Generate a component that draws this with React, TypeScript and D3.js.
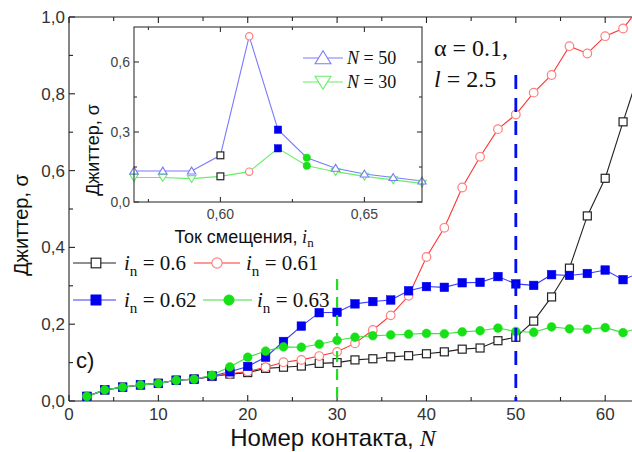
import React from "react";
import * as d3 from "d3";

// Contact numbers along the junction chain
const contacts = [2, 4, 6, 8, 10, 12, 14, 16, 18, 20, 22, 24, 26, 28, 30, 32, 34, 36, 38, 40, 42, 44, 46, 48, 50, 52, 54, 56, 58, 60, 62, 64];

// Jitter σ for each bias current i_n
const jitter060 = [0.012, 0.029, 0.036, 0.042, 0.046, 0.054, 0.057, 0.064, 0.070, 0.074, 0.085, 0.088, 0.091, 0.098, 0.100, 0.107, 0.110, 0.115, 0.118, 0.123, 0.128, 0.135, 0.138, 0.157, 0.166, 0.208, 0.271, 0.346, 0.482, 0.580, 0.727, 0.87];
const jitter061 = [0.012, 0.029, 0.036, 0.042, 0.046, 0.054, 0.057, 0.064, 0.071, 0.077, 0.088, 0.101, 0.107, 0.117, 0.128, 0.150, 0.185, 0.223, 0.274, 0.375, 0.451, 0.556, 0.636, 0.708, 0.746, 0.803, 0.849, 0.924, 0.905, 0.950, 0.970, 1.03];
const jitter062 = [0.012, 0.029, 0.036, 0.042, 0.046, 0.054, 0.057, 0.065, 0.076, 0.090, 0.114, 0.155, 0.195, 0.230, 0.231, 0.253, 0.259, 0.263, 0.287, 0.298, 0.296, 0.308, 0.309, 0.324, 0.305, 0.301, 0.329, 0.327, 0.332, 0.341, 0.316, 0.335];
const jitter063 = [0.012, 0.029, 0.036, 0.042, 0.046, 0.054, 0.057, 0.067, 0.089, 0.114, 0.130, 0.141, 0.140, 0.148, 0.158, 0.166, 0.170, 0.172, 0.174, 0.176, 0.175, 0.180, 0.183, 0.190, 0.181, 0.179, 0.193, 0.188, 0.187, 0.191, 0.178, 0.192];

// Inset: jitter versus bias current at two contacts
const biasCurrents = [0.57, 0.58, 0.59, 0.60, 0.61, 0.62, 0.63, 0.64, 0.65, 0.66, 0.67];
const jitterN50 = [0.133, 0.133, 0.133, 0.20, 0.71, 0.31, 0.19, 0.145, 0.12, 0.105, 0.09];
const jitterN30 = [0.105, 0.105, 0.10, 0.11, 0.13, 0.23, 0.155, 0.13, 0.11, 0.095, 0.08];

const mainXTicks = [0, 10, 20, 30, 40, 50, 60];
const mainYTicks = [0, 0.2, 0.4, 0.6, 0.8, 1.0];
const insetXTicks = [0.6, 0.65];
const insetYTicks = [0, 0.3, 0.6];

const SANS = "'Liberation Sans', Arial, sans-serif";
const SERIF = "'Liberation Serif', 'Times New Roman', serif";

const C_BLACK = "#222";
const C_RED_LINE = "#ff3333";
const C_RED_MARK = "#ff8080";
const C_BLUE = "#0000ee";
const C_BLUE_LINE = "#3a3aff";
const C_GREEN = "#16e016";
const C_GREEN_LINE = "#44dd44";
const C_INSET_BLUE = "#7a7aff";
const C_INSET_GREEN = "#66ee66";

type MarkerKind = "sqOpen" | "circOpen" | "sqFill" | "circFill" | "triUp" | "triDown";

function Marker({ kind, x, y, s = 1 }: { kind: MarkerKind; x: number; y: number; s?: number }) {
  switch (kind) {
    case "sqOpen":
      return <rect x={x - 4 * s} y={y - 4 * s} width={8 * s} height={8 * s} fill="#fff" stroke={C_BLACK} strokeWidth={1.2} />;
    case "circOpen":
      return <circle cx={x} cy={y} r={4.3 * s} fill="#fff" stroke={C_RED_MARK} strokeWidth={1.2} />;
    case "sqFill":
      return <rect x={x - 4.3 * s} y={y - 4.3 * s} width={8.6 * s} height={8.6 * s} fill={C_BLUE} stroke={C_BLUE} strokeWidth={0.5} />;
    case "circFill":
      return <circle cx={x} cy={y} r={4.4 * s} fill={C_GREEN} stroke={C_GREEN} strokeWidth={0.5} />;
    case "triUp": {
      const h = 4.5 * s;
      return <path d={`M${x},${y - h} L${x + h * 1.1},${y + h * 0.8} L${x - h * 1.1},${y + h * 0.8} Z`} fill="#fff" stroke={C_INSET_BLUE} strokeWidth={1.1} />;
    }
    case "triDown": {
      const h = 4.5 * s;
      return <path d={`M${x},${y + h} L${x + h * 1.1},${y - h * 0.8} L${x - h * 1.1},${y - h * 0.8} Z`} fill="#fff" stroke={C_INSET_GREEN} strokeWidth={1.1} />;
    }
  }
  return null;
}

function SubN({ x, y, value, size = 21 }: { x: number; y: number; value: string; size?: number }) {
  return (
    <text x={x} y={y} fontFamily={SERIF} fontSize={size} fill="#111">
      <tspan fontStyle="italic">i</tspan>
      <tspan fontSize={size * 0.72} dy={size * 0.28}>n</tspan>
      <tspan dy={-size * 0.28}>{` = ${value}`}</tspan>
    </text>
  );
}

export default function App() {
  // Main plot frame
  const left = 69, right = 632, top = 17, bottom = 401;
  const x = d3.scaleLinear().domain([0, 63]).range([left, right]);
  const y = d3.scaleLinear().domain([0, 1]).range([bottom, top]);

  const mainSeries = [
    { vals: jitter060, line: C_BLACK, kind: "sqOpen" as MarkerKind },
    { vals: jitter061, line: C_RED_LINE, kind: "circOpen" as MarkerKind },
    { vals: jitter062, line: C_BLUE_LINE, kind: "sqFill" as MarkerKind },
    { vals: jitter063, line: C_GREEN_LINE, kind: "circFill" as MarkerKind },
  ];

  const line = d3
    .line<number>()
    .x((_, i) => x(contacts[i]))
    .y((d) => y(d));

  // Inset frame
  const iL = 134, iR = 422, iT = 27, iB = 202;
  const ix = d3.scaleLinear().domain([0.57, 0.67]).range([iL, iR]);
  const iy = d3.scaleLinear().domain([0, 0.75]).range([iB, iT]);
  const iline = d3
    .line<number>()
    .x((_, i) => ix(biasCurrents[i]))
    .y((d) => iy(d));

  // Points at the four bias currents shown in the main plot keep their own markers
  const insetKind = (b: number, fallback: MarkerKind): MarkerKind => {
    const k = Math.round(b * 100);
    if (k === 60) return "sqOpen";
    if (k === 61) return "circOpen";
    if (k === 62) return "sqFill";
    if (k === 63) return "circFill";
    return fallback;
  };

  const xMinor = d3.range(0, 64, 5);
  const yMinor = d3.range(0, 1.001, 0.1);
  const ixMinor = [0.575, 0.6, 0.625, 0.65];
  const iyMinor = [0, 0.15, 0.3, 0.45, 0.6];

  return (
    <svg width={632} height={452} style={{ position: "absolute", left: 0, top: 0, background: "#fff" }}>
      <defs>
        <clipPath id="plotClip">
          <rect x={left} y={top} width={right - left} height={bottom - top} />
        </clipPath>
        <clipPath id="insetClip">
          <rect x={iL} y={iT} width={iR - iL} height={iB - iT} />
        </clipPath>
      </defs>

      {/* main axes */}
      <g stroke="#222" strokeWidth={1.1}>
        <line x1={left} y1={bottom} x2={right} y2={bottom} />
        <line x1={left} y1={top} x2={right} y2={top} />
        <line x1={left} y1={top} x2={left} y2={bottom} />
        {xMinor.map((t) => {
          const major = t % 10 === 0;
          const L = major ? 6 : 4;
          return (
            <g key={"xt" + t}>
              <line x1={x(t)} y1={bottom} x2={x(t)} y2={bottom - L} />
              <line x1={x(t)} y1={top} x2={x(t)} y2={top + L} />
            </g>
          );
        })}
        {yMinor.map((t, i) => {
          const L = i % 2 === 0 ? 6 : 4;
          return <line key={"yt" + i} x1={left} y1={y(t)} x2={left + L} y2={y(t)} />;
        })}
      </g>
      <g fontFamily={SANS} fontSize={17} fill="#333">
        {mainXTicks.map((t) => (
          <text key={"xl" + t} x={x(t)} y={bottom + 19} textAnchor="middle">{t}</text>
        ))}
        {mainYTicks.map((t) => (
          <text key={"yl" + t} x={left - 4} y={y(t) + 6} textAnchor="end">{d3.format(".1f")(t).replace(".", ",")}</text>
        ))}
      </g>

      {/* axis titles */}
      <text x={333} y={446} textAnchor="middle" fontFamily={SANS} fontSize={24} fill="#111">
        Номер контакта,<tspan fontFamily={SERIF} fontStyle="italic"> N</tspan>
      </text>
      <text transform="translate(28,225) rotate(-90)" textAnchor="middle" fontFamily={SANS} fontSize={20} fill="#111">
        Джиттер, σ
      </text>

      {/* series */}
      <g clipPath="url(#plotClip)">
        {mainSeries.map((s, si) => (
          <path key={"l" + si} d={line(s.vals) || ""} fill="none" stroke={s.line} strokeWidth={1.1} />
        ))}
        {mainSeries.map((s, si) => (
          <g key={"m" + si}>
            {s.vals.map((v, i) => (
              <Marker key={i} kind={s.kind} x={x(contacts[i])} y={y(v)} />
            ))}
          </g>
        ))}
      </g>

      {/* reference contacts */}
      <line x1={x(30)} y1={y(0.318)} x2={x(30)} y2={bottom} stroke="#22dd22" strokeWidth={2.2} strokeDasharray="11 7" />
      <line x1={x(50)} y1={y(0.849)} x2={x(50)} y2={bottom} stroke="#0010ee" strokeWidth={2.8} strokeDasharray="14 9" />

      {/* parameter annotation */}
      <text x={434} y={56} fontFamily={SERIF} fontSize={24} fill="#111">α = 0.1,</text>
      <text x={434} y={87} fontFamily={SERIF} fontSize={24} fill="#111">
        <tspan fontStyle="italic">l</tspan> = 2.5
      </text>
      <text x={76} y={368} fontFamily={SANS} fontSize={22} fill="#111">c)</text>

      {/* legend */}
      <g>
        <line x1={73} y1={263} x2={116} y2={263} stroke={C_BLACK} strokeWidth={1.1} />
        <Marker kind="sqOpen" x={96} y={263} s={1.2} />
        <SubN x={124} y={270} value="0.6" />
        <line x1={194} y1={263} x2={240} y2={263} stroke={C_RED_LINE} strokeWidth={1.1} />
        <Marker kind="circOpen" x={217} y={263} s={1.2} />
        <SubN x={246} y={270} value="0.61" />

        <line x1={73} y1={300} x2={116} y2={300} stroke={C_BLUE_LINE} strokeWidth={1.1} />
        <Marker kind="sqFill" x={96} y={300} s={1.2} />
        <SubN x={124} y={307} value="0.62" />
        <line x1={203} y1={300} x2={252} y2={300} stroke={C_GREEN_LINE} strokeWidth={1.1} />
        <Marker kind="circFill" x={229} y={300} s={1.2} />
        <SubN x={257} y={307} value="0.63" />
      </g>

      {/* inset */}
      <rect x={iL} y={iT} width={iR - iL} height={iB - iT} fill="#fff" />
      <g clipPath="url(#insetClip)">
        <path d={iline(jitterN30) || ""} fill="none" stroke={C_INSET_GREEN} strokeWidth={1.1} />
        <path d={iline(jitterN50) || ""} fill="none" stroke={C_INSET_BLUE} strokeWidth={1.1} />
      </g>
      {jitterN30.map((v, i) => (
        <Marker key={"n30" + i} kind={insetKind(biasCurrents[i], "triDown")} x={ix(biasCurrents[i])} y={iy(v)} s={0.85} />
      ))}
      {jitterN50.map((v, i) => (
        <Marker key={"n50" + i} kind={insetKind(biasCurrents[i], "triUp")} x={ix(biasCurrents[i])} y={iy(v)} s={0.85} />
      ))}
      <g stroke="#333" strokeWidth={1.1}>
        <rect x={iL} y={iT} width={iR - iL} height={iB - iT} fill="none" />
        {ixMinor.map((t) => {
          const L = insetXTicks.some((m) => Math.abs(m - t) < 1e-6) ? 5 : 3;
          return (
            <g key={"ixt" + t}>
              <line x1={ix(t)} y1={iB} x2={ix(t)} y2={iB - L} />
              <line x1={ix(t)} y1={iT} x2={ix(t)} y2={iT + L} />
            </g>
          );
        })}
        {iyMinor.map((t) => {
          const L = insetYTicks.some((m) => Math.abs(m - t) < 1e-6) ? 5 : 3;
          return (
            <g key={"iyt" + t}>
              <line x1={iL} y1={iy(t)} x2={iL + L} y2={iy(t)} />
              <line x1={iR} y1={iy(t)} x2={iR - L} y2={iy(t)} />
            </g>
          );
        })}
      </g>
      <g fontFamily={SANS} fontSize={14} fill="#444">
        {insetXTicks.map((t) => (
          <text key={"ixl" + t} x={ix(t)} y={iB + 17} textAnchor="middle">{d3.format(".2f")(t).replace(".", ",")}</text>
        ))}
        {insetYTicks.map((t) => (
          <text key={"iyl" + t} x={iL - 4} y={iy(t) + 5} textAnchor="end">{d3.format(".1f")(t).replace(".", ",")}</text>
        ))}
      </g>
      <text x={iL + (iR - iL) / 2 - 34} y={243} textAnchor="middle" fontFamily={SANS} fontSize={18} fill="#111">
        Ток смещения,
        <tspan fontFamily={SERIF} fontStyle="italic"> i</tspan>
        <tspan fontFamily={SERIF} fontSize={13} dy={4}>n</tspan>
      </text>
      <text transform="translate(99,150) rotate(-90)" textAnchor="middle" fontFamily={SANS} fontSize={18} fill="#111">
        Джиттер, σ
      </text>

      {/* inset legend */}
      <line x1={303} y1={58} x2={343} y2={58} stroke={C_INSET_BLUE} strokeWidth={1.1} />
      <Marker kind="triUp" x={323} y={58} s={1.6} />
      <text x={347} y={64} fontFamily={SERIF} fontSize={18} fill="#111">
        <tspan fontStyle="italic">N</tspan> = 50
      </text>
      <line x1={303} y1={82} x2={343} y2={82} stroke={C_INSET_GREEN} strokeWidth={1.1} />
      <Marker kind="triDown" x={323} y={82} s={1.6} />
      <text x={347} y={88} fontFamily={SERIF} fontSize={18} fill="#111">
        <tspan fontStyle="italic">N</tspan> = 30
      </text>
    </svg>
  );
}
